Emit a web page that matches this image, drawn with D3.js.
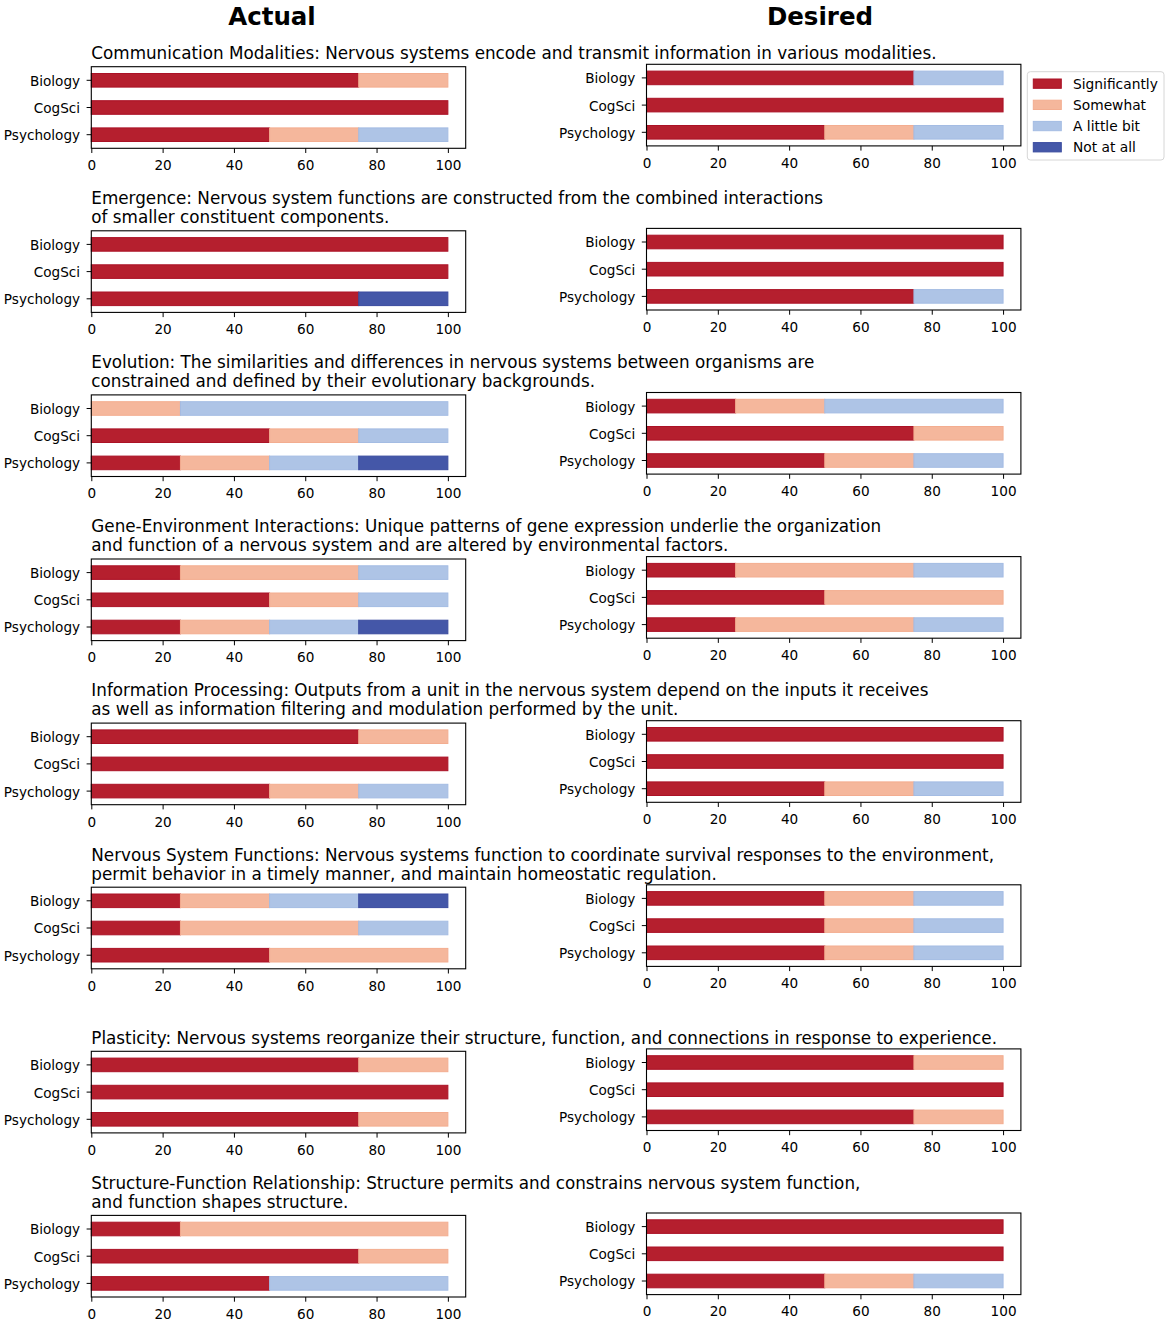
<!DOCTYPE html>
<html>
<head>
<meta charset="utf-8">
<script src="https://cdn.jsdelivr.net/npm/d3@7"></script>
<style>
  body { margin: 0; background: #fff; }
  svg { font-family: "DejaVu Sans", sans-serif; }
</style>
</head>
<body>
<script>
// categories
var groups = ["Biology", "CogSci", "Psychology"];
var levels = ["Significantly", "Somewhat", "A little bit", "Not at all"];
var xTicks = [0, 20, 40, 60, 80, 100];

var titles = [
    ["Communication Modalities: Nervous systems encode and transmit information in various modalities."],
    ["Emergence: Nervous system functions are constructed from the combined interactions",
     "of smaller constituent components."],
    ["Evolution: The similarities and differences in nervous systems between organisms are",
     "constrained and defined by their evolutionary backgrounds."],
    ["Gene-Environment Interactions: Unique patterns of gene expression underlie the organization",
     "and function of a nervous system and are altered by environmental factors."],
    ["Information Processing: Outputs from a unit in the nervous system depend on the inputs it receives",
     "as well as information filtering and modulation performed by the unit."],
    ["Nervous System Functions: Nervous systems function to coordinate survival responses to the environment,",
     "permit behavior in a timely manner, and maintain homeostatic regulation."],
    ["Plasticity: Nervous systems reorganize their structure, function, and connections in response to experience."],
    ["Structure-Function Relationship: Structure permits and constrains nervous system function,",
     "and function shapes structure."]
];

// [Significantly, Somewhat, A little bit, Not at all] for Biology, CogSci, Psychology
var actual = [
    [[75, 25, 0, 0], [100, 0, 0, 0], [50, 25, 25, 0]],
    [[100, 0, 0, 0], [100, 0, 0, 0], [75, 0, 0, 25]],
    [[0, 25, 75, 0], [50, 25, 25, 0], [25, 25, 25, 25]],
    [[25, 50, 25, 0], [50, 25, 25, 0], [25, 25, 25, 25]],
    [[75, 25, 0, 0], [100, 0, 0, 0], [50, 25, 25, 0]],
    [[25, 25, 25, 25], [25, 50, 25, 0], [50, 50, 0, 0]],
    [[75, 25, 0, 0], [100, 0, 0, 0], [75, 25, 0, 0]],
    [[25, 75, 0, 0], [75, 25, 0, 0], [50, 0, 50, 0]]
];

var desired = [
    [[75, 0, 25, 0], [100, 0, 0, 0], [50, 25, 25, 0]],
    [[100, 0, 0, 0], [100, 0, 0, 0], [75, 0, 25, 0]],
    [[25, 25, 50, 0], [75, 25, 0, 0], [50, 25, 25, 0]],
    [[25, 50, 25, 0], [50, 50, 0, 0], [25, 50, 25, 0]],
    [[100, 0, 0, 0], [100, 0, 0, 0], [50, 25, 25, 0]],
    [[50, 25, 25, 0], [50, 25, 25, 0], [50, 25, 25, 0]],
    [[75, 25, 0, 0], [100, 0, 0, 0], [75, 25, 0, 0]],
    [[100, 0, 0, 0], [100, 0, 0, 0], [50, 25, 25, 0]]
];

var fills = ["#b51f2e", "#f5b79c", "#aec4e6", "#4457a8"];
var edges = ["#ab1226", "#f3ad90", "#a4bce3", "#3a4b9f"];

var W = 1170, H = 1325;
var rowPitch = 164.1;
var axW = 374.4, axH = 81.6;
var cols = [
    { x: 91.3, top: 66.7, data: actual, header: "Actual", hx: 272 },
    { x: 646.5, top: 64.3, data: desired, header: "Desired", hx: 820 }
];

var svg = d3.select("body").append("svg").attr("width", W).attr("height", H);

var xScale = d3.scaleLinear().domain([0, 105]).range([0, axW]);
var yScale = d3.scaleBand().domain(groups).range([0, axH]).paddingInner(0.5).paddingOuter(0.25);
var colour = d3.scaleOrdinal().domain(levels).range(fills);
var edge = d3.scaleOrdinal().domain(levels).range(edges);

var stack = d3.stack().keys(d3.range(levels.length));

// column headers
cols.forEach(function (c) {
    svg.append("text").attr("x", c.hx).attr("y", 25).attr("text-anchor", "middle")
        .attr("font-size", 24.5).attr("font-weight", "bold").text(c.header);
});

titles.forEach(function (lines, t) {
    var leftTop = cols[0].top + t * rowPitch;
    // title lines, left aligned on the left axes
    lines.forEach(function (line, k) {
        svg.append("text")
            .attr("x", cols[0].x)
            .attr("y", leftTop - 13.7 - (lines.length - 1 - k) * 19 + 6)
            .attr("font-size", 16.8).text(line);
    });

    cols.forEach(function (c) {
        var g = svg.append("g").attr("transform", "translate(" + c.x + "," + (c.top + t * rowPitch) + ")");
        var rows = c.data[t];
        var series = stack(rows);

        g.selectAll(".layer").data(series).enter().append("g").attr("class", "layer")
            .attr("fill", function (d) { return colour(levels[d.key]); })
            .attr("stroke", function (d) { return edge(levels[d.key]); })
            .selectAll("rect").data(function (d) { return d.filter(function (p) { return p[1] > p[0]; }); })
            .enter().append("rect")
            .attr("x", function (d) { return xScale(d[0]); })
            .attr("width", function (d) { return xScale(d[1]) - xScale(d[0]); })
            .attr("y", function (d) { return yScale(groups[rows.indexOf(d.data)]); })
            .attr("height", yScale.bandwidth())
            .attr("stroke-width", 1);

        // axes
        var xAxis = d3.axisBottom(xScale).tickValues(xTicks).tickSize(4.7).tickPadding(7.5);
        var yAxis = d3.axisLeft(yScale).tickSize(4.7).tickPadding(6.5);
        var gx = g.append("g").attr("transform", "translate(0," + axH + ")").call(xAxis);
        var gy = g.append("g").call(yAxis);
        [gx, gy].forEach(function (a) {
            a.select(".domain").remove();
            a.selectAll("text").attr("font-size", 13.6).attr("fill", "#000")
                .style("font-family", "DejaVu Sans, sans-serif");
            a.selectAll("line").attr("stroke", "#000").attr("stroke-width", 1);
        });
        gy.selectAll("text").attr("dy", "0.4em");
        g.append("rect").attr("width", axW).attr("height", axH)
            .attr("fill", "none").attr("stroke", "#000").attr("stroke-width", 1.1);
    });
});

// legend
var lg = svg.append("g").attr("transform", "translate(1027.3,71.7)");
lg.append("rect").attr("width", 136.7).attr("height", 88.3).attr("rx", 3)
    .attr("fill", "#fff").attr("stroke", "#d6d6d6").attr("stroke-width", 1);
var item = lg.selectAll(".item").data(levels).enter().append("g").attr("class", "item")
    .attr("transform", function (d, i) { return "translate(0," + (12 + i * 21.2) + ")"; });
item.append("rect").attr("x", 6).attr("y", -4.7).attr("width", 28).attr("height", 9.3)
    .attr("fill", function (d) { return colour(d); })
    .attr("stroke", function (d) { return edge(d); });
item.append("text").attr("x", 45.7).attr("y", 5).attr("font-size", 13.8).text(function (d) { return d; });
</script>
</body>
</html>
